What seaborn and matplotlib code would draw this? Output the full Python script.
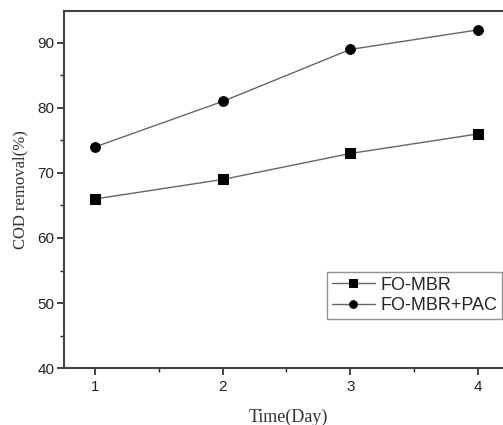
import pandas as pd
import matplotlib
matplotlib.use("Agg")
import matplotlib.pyplot as plt
import seaborn as sns
from matplotlib.ticker import MultipleLocator

days = [1, 2, 3, 4]
fo_mbr = [66, 69, 73, 76]
fo_mbr_pac = [74, 81, 89, 92]
series_names = ["FO-MBR", "FO-MBR+PAC"]

df = pd.DataFrame({
    "day": days * 2,
    "cod": fo_mbr + fo_mbr_pac,
    "series": [series_names[0]] * 4 + [series_names[1]] * 4,
})

sns.set_style("ticks")
plt.rcParams["font.family"] = ["Liberation Sans", "DejaVu Sans"]

fig = plt.figure(figsize=(5.03, 4.25), dpi=100)
ax = fig.add_axes([0.127, 0.134, 0.893, 0.84])

sns.lineplot(data=df, x="day", y="cod", hue="series", style="series",
             markers={"FO-MBR": "s", "FO-MBR+PAC": "o"}, dashes=False,
             palette={"FO-MBR": "#666666", "FO-MBR+PAC": "#666666"},
             markersize=7, markerfacecolor="black", markeredgecolor="black",
             linewidth=1.0, ax=ax)

ax.set_xlim(0.7565, 4.275)
ax.set_ylim(40, 94.9)
ax.xaxis.set_major_locator(MultipleLocator(1))
ax.xaxis.set_minor_locator(MultipleLocator(0.5))
ax.yaxis.set_major_locator(MultipleLocator(10))
ax.yaxis.set_minor_locator(MultipleLocator(5))
ax.tick_params(which="major", direction="out", length=5, width=1.2, labelsize=11, colors="#222222")
ax.tick_params(which="minor", direction="out", length=3, width=1.0)
ax.tick_params(axis="y", which="major", pad=2)
for s in ax.spines.values():
    s.set_linewidth(1.5)
    s.set_color("#444444")

ax.set_xlabel("Time(Day)", family="Liberation Serif", fontsize=13, color="#333333", labelpad=11)
ax.set_ylabel("COD removal(%)", family="Liberation Serif", fontsize=12, color="#333333", labelpad=6)

leg = ax.legend(loc="upper left", bbox_to_anchor=(0.586, 0.269), fontsize=13,
                frameon=True, fancybox=False, edgecolor="#777777",
                handlelength=2.4, borderpad=0.25, labelspacing=0.2,
                handletextpad=0.3, borderaxespad=0)
leg.get_frame().set_linewidth(1.0)
for h in leg.legend_handles:
    h.set_markerfacecolor("black")
    h.set_markeredgecolor("black")
    h.set_markersize(5.5)

fig.savefig("out.png", dpi=100)
